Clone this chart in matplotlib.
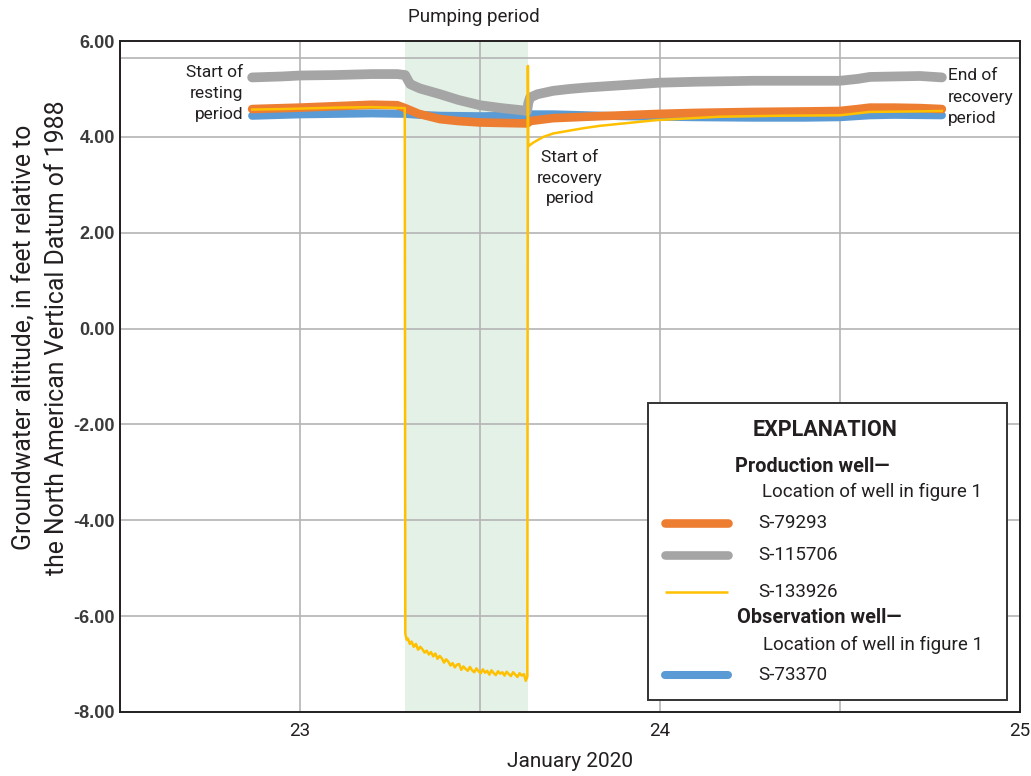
import matplotlib
matplotlib.use("Agg")
import matplotlib.pyplot as plt
from matplotlib import font_manager
from matplotlib.lines import Line2D
from matplotlib.patches import Rectangle

# ---------------------------------------------------------------- fonts
available = {f.name for f in font_manager.fontManager.ttflist}
BASE = "Roboto" if "Roboto" in available else "Liberation Sans"
plt.rcParams["axes.unicode_minus"] = False
plt.rcParams["font.family"] = [BASE, "DejaVu Sans"]

# ---------------------------------------------------------------- data
# Time in days of January 2020, altitude in feet (NAVD 88)
pump_start, pump_end = 23.292, 23.632

t_s115706 = [22.867, 22.95, 23.00, 23.10, 23.20, 23.27, 23.292, 23.300, 23.306, 23.333,
             23.389, 23.44, 23.50, 23.56, 23.61, 23.631, 23.634, 23.639, 23.66, 23.703,
             23.75, 23.797, 23.90, 24.00, 24.10, 24.258, 24.40, 24.50, 24.55, 24.583,
             24.65, 24.722, 24.783]
v_s115706 = [5.24, 5.26, 5.28, 5.29, 5.31, 5.31, 5.29, 5.18, 5.10, 5.01,
             4.89, 4.77, 4.66, 4.60, 4.56, 4.54, 4.70, 4.82, 4.89, 4.96,
             5.00, 5.03, 5.08, 5.13, 5.15, 5.17, 5.17, 5.17, 5.21, 5.25,
             5.26, 5.27, 5.24]

t_s79293 = [22.867, 23.00, 23.10, 23.20, 23.27, 23.292, 23.33, 23.389, 23.44, 23.50,
            23.56, 23.631, 23.639, 23.703, 23.797, 23.90, 24.00, 24.10, 24.258, 24.40,
            24.50, 24.55, 24.583, 24.65, 24.722, 24.783]
v_s79293 = [4.58, 4.61, 4.64, 4.67, 4.66, 4.60, 4.48, 4.37, 4.33, 4.30,
            4.29, 4.28, 4.33, 4.39, 4.42, 4.45, 4.48, 4.50, 4.52, 4.53,
            4.54, 4.58, 4.61, 4.61, 4.60, 4.58]

t_s73370 = [22.867, 23.00, 23.10, 23.20, 23.292, 23.33, 23.389, 23.50, 23.60, 23.631,
            23.639, 23.703, 23.797, 23.90, 24.00, 24.10, 24.258, 24.40, 24.50, 24.583,
            24.65, 24.783]
v_s73370 = [4.44, 4.47, 4.48, 4.49, 4.48, 4.46, 4.44, 4.43, 4.44, 4.45,
            4.47, 4.47, 4.45, 4.43, 4.42, 4.41, 4.40, 4.40, 4.41, 4.45,
            4.46, 4.45]

t_s133926 = [22.867, 22.95, 23.00, 23.10, 23.20, 23.25, 23.291,
             23.2925, 23.296, 23.300, 23.305, 23.310, 23.316, 23.322, 23.328, 23.334, 23.340,
             23.346, 23.352, 23.358, 23.364, 23.370, 23.376, 23.382, 23.388, 23.394, 23.400,
             23.406, 23.412, 23.418, 23.424, 23.430, 23.436, 23.442, 23.448, 23.454, 23.460,
             23.466, 23.472, 23.478, 23.484, 23.490, 23.496, 23.502, 23.508, 23.514, 23.520,
             23.526, 23.532, 23.538, 23.544, 23.550, 23.556, 23.562, 23.568, 23.574, 23.580,
             23.586, 23.592, 23.598, 23.604, 23.610, 23.616, 23.622, 23.627, 23.6315,
             23.6330, 23.6340, 23.637, 23.648, 23.676, 23.703, 23.741, 23.787, 23.833,
             23.925, 23.991, 24.167, 24.330, 24.500, 24.583, 24.700, 24.783]
v_s133926 = [4.57, 4.58, 4.59, 4.61, 4.62, 4.61, 4.60,
             -6.36, -6.49, -6.47, -6.58, -6.53, -6.64, -6.58, -6.70, -6.64, -6.69,
             -6.76, -6.72, -6.80, -6.75, -6.84, -6.78, -6.89, -6.83, -6.88, -6.97,
             -6.90, -6.95, -7.03, -6.98, -7.07, -7.01, -7.00, -7.12, -7.05, -7.10,
             -7.14, -7.06, -7.13, -7.17, -7.09, -7.15, -7.19, -7.11, -7.18, -7.14,
             -7.22, -7.13, -7.19, -7.23, -7.15, -7.20, -7.17, -7.24, -7.16, -7.21,
             -7.25, -7.17, -7.22, -7.27, -7.19, -7.24, -7.21, -7.35, -7.26,
             5.48, 3.80, 3.82, 3.88, 4.00, 4.07, 4.12, 4.18, 4.23,
             4.30, 4.35, 4.42, 4.44, 4.45, 4.52, 4.53, 4.54]

y_ticks = [6, 4, 2, 0, -2, -4, -6, -8]
x_ticks = [23, 24, 25]

# ---------------------------------------------------------------- colours
C_ORANGE = "#ed7d31"
C_GRAY = "#a5a5a5"
C_YELLOW = "#ffc000"
C_BLUE = "#5b9bd5"
C_SHADE = "#e3f1e7"
C_GRID = "#b4b4b4"
C_TEXT = "#231f20"

# ---------------------------------------------------------------- figure
fig = plt.figure(figsize=(10.31, 7.76), dpi=100)
ax = fig.add_axes([120 / 1031, 1 - 712 / 776, 900 / 1031, 671 / 776])
ax.set_xlim(22.5, 25.0)
ax.set_ylim(-8.0, 6.0)

ax.axvspan(pump_start, pump_end, color=C_SHADE, lw=0, zorder=0)

for xv in [22.5, 23.0, 23.5, 24.0, 24.5]:
    ax.axvline(xv, color=C_GRID, lw=1.2, zorder=1)
for yv in [-6, -4, -2, 0, 2, 4, 5.65]:
    ax.axhline(yv, color=C_GRID, lw=1.2, zorder=1)

ax.plot(t_s73370, v_s73370, color=C_BLUE, lw=5.8, solid_capstyle="round",
        solid_joinstyle="round", zorder=3)
ax.plot(t_s79293, v_s79293, color=C_ORANGE, lw=6.2, solid_capstyle="round",
        solid_joinstyle="round", zorder=4)
ax.plot(t_s115706, v_s115706, color=C_GRAY, lw=7.0, solid_capstyle="round",
        solid_joinstyle="round", zorder=4)
ax.plot(t_s133926, v_s133926, color=C_YELLOW, lw=1.8, zorder=5)

for s in ax.spines.values():
    s.set_color(C_TEXT)
    s.set_linewidth(1.4)

ax.set_yticks(y_ticks)
ax.set_yticklabels([f"{v:.2f}" for v in y_ticks], family="Liberation Sans",
                   fontweight="bold", fontsize=13, color="#3a3a3a")
ax.set_xticks(x_ticks)
ax.set_xticklabels([str(v) for v in x_ticks], fontsize=13.5, color=C_TEXT)
ax.tick_params(axis="y", length=0, pad=3.5)
ax.tick_params(axis="x", length=0, pad=7)

ax.set_xlabel("January 2020", fontsize=15, color=C_TEXT, labelpad=9)
ax.set_ylabel("Groundwater altitude, in feet relative to\nthe North American Vertical Datum of 1988",
              fontsize=17.8, color=C_TEXT, linespacing=1.45, va="center")
ax.yaxis.set_label_coords(-0.0878, 0.558)

# ---------------------------------------------------------------- annotations
ax.text(22.842, 4.91, "Start of\nresting\nperiod", ha="right", va="center",
        fontsize=12.5, color=C_TEXT, linespacing=1.48, zorder=6)
ax.text(24.80, 4.83, "End of\nrecovery\nperiod", ha="left", va="center",
        fontsize=12.5, color=C_TEXT, linespacing=1.52, zorder=6)
ax.text(23.75, 3.14, "Start of\nrecovery\nperiod", ha="center", va="center",
        fontsize=12.5, color=C_TEXT, linespacing=1.48, zorder=6)
ax.text(23.483, 1.036, "Pumping period", ha="center", va="center",
        fontsize=13.5, color=C_TEXT, transform=ax.get_xaxis_transform(), clip_on=False)

# ---------------------------------------------------------------- explanation box
T = ax.transAxes
ax.add_patch(Rectangle((0.5867, 0.0179), 0.3989, 0.4433, transform=T,
                       facecolor="white", edgecolor="#333333", lw=1.4, zorder=7))
ax.text(0.7833, 0.4209, "EXPLANATION", transform=T, ha="center", va="center",
        fontsize=15.5, fontweight="bold", color=C_TEXT, zorder=8)
ax.text(0.6833, 0.3657, "Production well\u2014", transform=T, ha="left", va="center",
        fontsize=14.3, fontweight="bold", color=C_TEXT, zorder=8)
ax.text(0.7133, 0.3284, "Location of well in figure 1", transform=T, ha="left", va="center",
        fontsize=13.5, color=C_TEXT, zorder=8)
ax.text(0.6856, 0.1403, "Observation well\u2014", transform=T, ha="left", va="center",
        fontsize=14.3, fontweight="bold", color=C_TEXT, zorder=8)
ax.text(0.7144, 0.1000, "Location of well in figure 1", transform=T, ha="left", va="center",
        fontsize=13.5, color=C_TEXT, zorder=8)

legend_rows = [
    ("S-79293", C_ORANGE, 6.2, 0.2821),
    ("S-115706", C_GRAY, 6.2, 0.2343),
    ("S-133926", C_YELLOW, 1.8, 0.1791),
    ("S-73370", C_BLUE, 5.8, 0.0552),
]
for name, col, lw, yy in legend_rows:
    cap = "round" if lw > 3 else "butt"
    ax.add_line(Line2D([0.6056, 0.6756], [yy, yy], transform=T, color=col, lw=lw,
                       solid_capstyle=cap, zorder=8))
    ax.text(0.7089, yy, name, transform=T, ha="left", va="center",
            fontsize=13.5, color=C_TEXT, zorder=8)

fig.savefig("out.png", dpi=100, facecolor="white")
